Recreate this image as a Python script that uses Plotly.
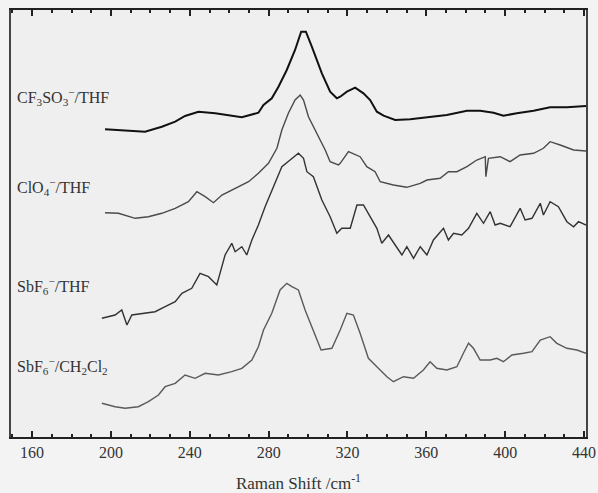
import plotly.graph_objects as go

# ---- data (Raman shift in cm^-1, intensity in arbitrary offset units) ----
cf3so3_x = [197.0, 208.9, 217.3, 225.8, 232.6, 237.6, 244.4, 252.9, 263.0, 266.4, 274.8, 277.4,
            281.6, 285.0, 289.2, 293.4, 296.5, 298.9, 301.9, 307.0, 311.2, 314.6, 316.3, 319.7,
            323.9, 328.1, 331.5, 334.9, 338.3, 344.2, 351.8, 360.3, 370.4, 380.6, 387.3, 394.1,
            399.1, 405.9, 414.4, 422.8, 431.3, 441.0]
cf3so3_y = [307.7, 306.0, 305.3, 310.3, 315.3, 321.0, 325.3, 323.7, 321.0, 319.7, 324.3, 332.0,
            338.7, 350.3, 367.0, 387.0, 405.3, 405.3, 390.3, 363.7, 345.3, 338.7, 340.3, 345.3,
            349.3, 343.7, 337.0, 325.3, 321.3, 317.0, 317.7, 319.7, 322.0, 326.3, 326.3, 324.3,
            321.3, 323.7, 326.3, 329.7, 329.7, 331.0]

clo4_x = [197.0, 203.8, 212.3, 219.0, 225.8, 232.6, 239.3, 243.6, 247.8, 252.0, 256.3, 263.0,
          269.8, 274.8, 279.9, 284.2, 286.7, 290.0, 293.4, 296.0, 297.7, 300.2, 303.6, 308.7,
          311.2, 315.4, 316.3, 320.5, 326.4, 329.8, 334.0, 336.6, 343.3, 350.1, 356.9, 360.3,
          367.0, 371.2, 375.5, 380.6, 385.6, 389.9, 390.2, 391.5, 397.5, 402.5, 407.6, 414.4,
          419.4, 422.8, 427.9, 434.7, 441.0]
clo4_y = [224.3, 223.7, 218.7, 220.3, 223.7, 228.7, 235.3, 245.3, 240.3, 234.3, 242.0, 248.7,
          255.3, 263.7, 273.7, 288.7, 307.0, 323.7, 337.0, 342.0, 337.0, 320.3, 307.0, 287.0,
          275.3, 272.0, 273.7, 285.3, 280.3, 270.3, 265.3, 255.3, 252.0, 249.7, 253.7, 257.0,
          258.7, 265.3, 265.3, 270.3, 277.0, 280.3, 260.3, 278.7, 280.3, 275.3, 282.0, 283.7,
          288.7, 295.3, 292.0, 287.0, 286.0]

sbf6_thf_x = [195.4, 202.1, 205.5, 208.1, 210.6, 215.7, 222.4, 227.5, 232.6, 236.0, 241.0, 245.2,
              249.5, 253.7, 256.3, 257.9, 261.3, 263.0, 266.4, 268.9, 271.5, 274.8, 278.2, 283.3,
              286.7, 290.9, 295.1, 297.7, 299.4, 302.7, 307.0, 311.2, 314.6, 317.1, 321.4, 324.8,
              328.1, 331.5, 334.9, 337.4, 340.8, 344.2, 347.6, 350.1, 353.5, 356.9, 360.3, 363.6,
              368.7, 371.2, 373.8, 378.0, 381.4, 385.6, 389.0, 392.4, 394.9, 397.5, 402.5, 407.6,
              410.1, 413.6, 417.8, 419.4, 422.8, 427.0, 431.3, 434.7, 437.2, 441.0]
sbf6_thf_y = [118.7, 122.0, 127.0, 112.0, 122.0, 123.7, 125.3, 130.3, 135.3, 143.7, 148.7, 163.7,
              160.3, 152.0, 170.3, 182.0, 193.7, 185.3, 190.3, 182.0, 197.0, 212.0, 230.3, 253.7,
              270.3, 277.0, 283.7, 278.7, 265.3, 260.3, 237.0, 220.3, 203.7, 208.7, 208.7, 232.0,
              232.0, 220.3, 208.7, 193.7, 202.0, 192.0, 182.0, 190.3, 178.7, 190.3, 182.0, 197.0,
              208.7, 197.0, 203.7, 202.0, 208.7, 223.7, 213.7, 225.3, 212.0, 213.7, 210.3, 228.7,
              217.0, 218.7, 233.7, 222.0, 235.3, 230.3, 215.3, 210.3, 215.3, 212.0]

sbf6_ch2cl2_x = [195.4, 202.1, 207.2, 213.9, 219.0, 224.1, 227.5, 232.6, 237.6, 242.7, 247.8, 254.5,
                 261.3, 266.4, 271.5, 274.8, 277.4, 281.6, 285.8, 289.2, 291.8, 295.1, 298.5, 302.7,
                 306.6, 312.1, 316.3, 319.7, 323.0, 326.4, 330.6, 334.9, 340.0, 343.3, 348.4, 353.5,
                 358.5, 361.9, 365.3, 370.4, 375.5, 378.8, 381.4, 383.9, 387.3, 392.4, 395.8, 399.1,
                 403.4, 409.3, 413.6, 417.8, 422.8, 426.2, 431.3, 436.4, 441.0]
sbf6_ch2cl2_y = [33.7, 30.3, 28.7, 30.3, 35.3, 42.0, 50.3, 53.7, 62.0, 58.7, 63.7, 62.0,
                 65.3, 68.7, 77.0, 90.3, 107.0, 123.7, 147.0, 153.7, 150.3, 147.0, 127.0, 107.0,
                 87.0, 88.7, 107.0, 123.7, 122.0, 103.7, 78.7, 70.3, 60.3, 55.3, 60.3, 58.7,
                 67.0, 75.3, 68.7, 67.0, 70.3, 83.7, 93.7, 88.7, 77.0, 77.0, 78.7, 75.3,
                 82.0, 83.7, 85.3, 97.0, 100.3, 93.7, 88.7, 87.0, 83.7]

labels = ["CF<sub>3</sub>SO<sub>3</sub><sup>−</sup>/THF",
          "ClO<sub>4</sub><sup>−</sup>/THF",
          "SbF<sub>6</sub><sup>−</sup>/THF",
          "SbF<sub>6</sub><sup>−</sup>/CH<sub>2</sub>Cl<sub>2</sub>"]
label_y = [340, 250, 151, 71]
tick_vals = [160, 200, 240, 280, 320, 360, 400, 440]
tick_text = ["160", "200", "240", "280", "320", "360", "400", "440"]

series = [(cf3so3_x, cf3so3_y, "#111111", 2.0),
          (clo4_x, clo4_y, "#4a4a4a", 1.4),
          (sbf6_thf_x, sbf6_thf_y, "#333333", 1.4),
          (sbf6_ch2cl2_x, sbf6_ch2cl2_y, "#5a5a5a", 1.4)]

SERIF = "Liberation Serif, Times New Roman, serif"

fig = go.Figure()
for (xs, ys, col, w), name in zip(series, labels):
    fig.add_trace(go.Scatter(x=xs, y=ys, mode="lines", name=name,
                             line=dict(color=col, width=w), showlegend=False))

for txt, yy in zip(labels, label_y):
    fig.add_annotation(x=151.5, y=yy, xref="x", yref="y", text=txt, showarrow=False,
                       xanchor="left", yanchor="middle",
                       font=dict(family=SERIF, size=16, color="#333333"))

fig.update_layout(
    width=598, height=493,
    margin=dict(l=11, r=12, t=10, b=56),
    paper_bgcolor="#f3f3f3", plot_bgcolor="#efefef",
    font=dict(family=SERIF, size=16, color="#333333"),
)
fig.update_xaxes(
    range=[149.3, 441], tickmode="array", tickvals=tick_vals, ticktext=tick_text,
    automargin=False,
    ticks="inside", ticklen=6, tickwidth=1.5, tickcolor="#222222",
    minor=dict(dtick=10, ticks="inside", ticklen=3, tickcolor="#222222"),
    showline=True, linecolor="#222222", linewidth=1.5, mirror="ticks",
    showgrid=False, zeroline=False,
    tickfont=dict(family=SERIF, size=16, color="#333333"),
    title=dict(text="Raman Shift /cm<sup>-1</sup>", standoff=18,
               font=dict(family=SERIF, size=17, color="#333333")),
)
fig.update_yaxes(
    range=[0, 427], showticklabels=False, ticks="", automargin=False,
    showline=True, linecolor="#444444", linewidth=1.5, mirror=True,
    showgrid=False, zeroline=False,
)

fig.write_html("out.html", config={"displayModeBar": False},
               post_script="document.body.style.margin='0';")
